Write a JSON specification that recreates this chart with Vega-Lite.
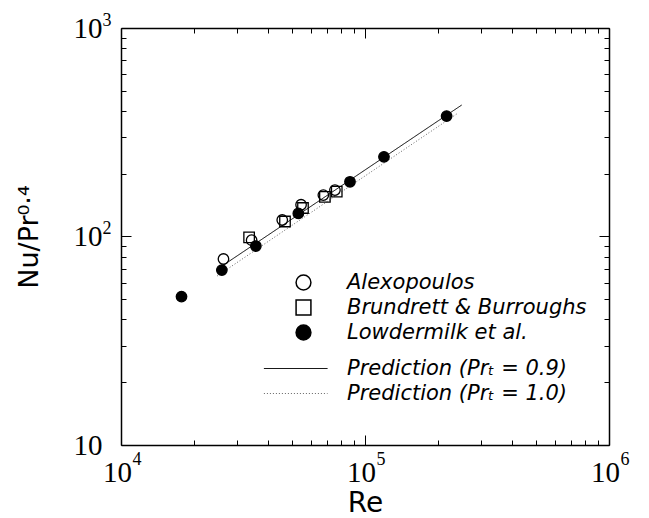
{
  "$schema": "https://vega.github.io/schema/vega-lite/v6.json",
  "width": 488,
  "height": 417,
  "autosize": "none",
  "padding": {"left": 121, "top": 28, "right": 40, "bottom": 73},
  "background": "white",
  "config": {
    "view": {"stroke": null},
    "axis": {"grid": false, "domainColor": "black", "tickColor": "black", "labelColor": "black", "titleColor": "black", "domainWidth": 1.5, "tickWidth": 1}
  },
  "datasets": {
    "points": [
      {"source": "Alexopoulos", "Re": 26300, "NuPr": 78},
      {"source": "Alexopoulos", "Re": 34300, "NuPr": 96},
      {"source": "Alexopoulos", "Re": 45800, "NuPr": 120},
      {"source": "Alexopoulos", "Re": 54700, "NuPr": 142},
      {"source": "Alexopoulos", "Re": 67500, "NuPr": 158},
      {"source": "Alexopoulos", "Re": 75300, "NuPr": 167},
      {"source": "Brundrett & Burroughs", "Re": 33500, "NuPr": 99},
      {"source": "Brundrett & Burroughs", "Re": 47000, "NuPr": 118},
      {"source": "Brundrett & Burroughs", "Re": 55700, "NuPr": 137},
      {"source": "Brundrett & Burroughs", "Re": 68500, "NuPr": 155},
      {"source": "Brundrett & Burroughs", "Re": 76600, "NuPr": 164},
      {"source": "Lowdermilk et al.", "Re": 17700, "NuPr": 51.5},
      {"source": "Lowdermilk et al.", "Re": 25900, "NuPr": 69},
      {"source": "Lowdermilk et al.", "Re": 35700, "NuPr": 90},
      {"source": "Lowdermilk et al.", "Re": 53300, "NuPr": 129},
      {"source": "Lowdermilk et al.", "Re": 86800, "NuPr": 183},
      {"source": "Lowdermilk et al.", "Re": 119600, "NuPr": 241},
      {"source": "Lowdermilk et al.", "Re": 216000, "NuPr": 378}
    ],
    "lines": [
      {"model": "Prediction (Prₜ = 0.9)", "Re": 25500, "NuPr": 71.2},
      {"model": "Prediction (Prₜ = 0.9)", "Re": 249000, "NuPr": 427},
      {"model": "Prediction (Prₜ = 1.0)", "Re": 24800, "NuPr": 64.7},
      {"model": "Prediction (Prₜ = 1.0)", "Re": 237600, "NuPr": 387}
    ]
  },
  "resolve": {"axis": {"x": "independent", "y": "independent"}},
  "layer": [
    {
      "data": {"name": "lines"},
      "transform": [{"filter": {"field": "model", "equal": "Prediction (Prₜ = 0.9)"}}],
      "mark": {"type": "line", "strokeWidth": 1},
      "encoding": {
        "x": {"field": "Re", "type": "quantitative", "scale": {"type": "log", "domain": [10000, 1000000]},
          "axis": {"orient": "bottom", "values": [10000, 100000, 1000000], "tickSize": -10,
            "labelExpr": "'10'", "labelAlign": "center", "labelOffset": -4,
            "labelFont": "Liberation Serif", "labelFontSize": 29, "labelPadding": 23, "labelFlush": false, "labelOverlap": false, "labelBound": false,
            "title": "Re", "titleFont": "DejaVu Sans", "titleFontSize": 28, "titleFontWeight": "normal", "titlePadding": 2}},
        "y": {"field": "NuPr", "type": "quantitative", "scale": {"type": "log", "domain": [10, 1000]},
          "axis": {"orient": "left", "values": [10, 100, 1000], "tickSize": -10,
            "labelExpr": "'10'", "labelBaseline": "middle",
            "labelFont": "Liberation Serif", "labelFontSize": 29, "labelPadding": 29, "labelFlush": false, "labelOverlap": false, "labelBound": false,
            "title": "Nu/Pr⁰·⁴", "titleFont": "DejaVu Sans", "titleFontSize": 27, "titleFontWeight": "normal", "titlePadding": 30}},
        "strokeDash": {"field": "model", "type": "nominal",
          "scale": {"domain": ["Prediction (Prₜ = 0.9)", "Prediction (Prₜ = 1.0)"], "range": [[1, 0], [1, 2]]},
          "legend": {"title": null, "orient": "none", "legendX": 172, "legendY": 330, "symbolType": "M-5.6,0H3.4", "symbolSize": 200, "symbolStrokeWidth": 1, "labelFont": "DejaVu Sans", "labelFontSize": 21, "labelFontStyle": "italic", "labelColor": "black", "labelOffset": 33, "labelLimit": 0, "rowPadding": 3, "padding": 0}},
        "stroke": {"field": "model", "type": "nominal",
          "scale": {"domain": ["Prediction (Prₜ = 0.9)", "Prediction (Prₜ = 1.0)"], "range": ["black", "#666666"]},
          "legend": {"title": null, "orient": "none", "legendX": 172, "legendY": 330, "symbolType": "M-5.6,0H3.4", "symbolSize": 200, "symbolStrokeWidth": 1, "labelFont": "DejaVu Sans", "labelFontSize": 21, "labelFontStyle": "italic", "labelColor": "black", "labelOffset": 33, "labelLimit": 0, "rowPadding": 3, "padding": 0}}
      }
    },
    {
      "data": {"name": "lines"},
      "transform": [{"filter": {"field": "model", "equal": "Prediction (Prₜ = 1.0)"}}],
      "mark": {"type": "line", "strokeWidth": 1},
      "encoding": {
        "x": {"field": "Re", "type": "quantitative", "scale": {"type": "log", "domain": [10000, 1000000]},
          "axis": {"orient": "bottom", "values": [20000, 30000, 40000, 50000, 60000, 70000, 80000, 90000, 200000, 300000, 400000, 500000, 600000, 700000, 800000, 900000], "tickSize": -5, "labels": false, "domain": false, "title": null}},
        "y": {"field": "NuPr", "type": "quantitative", "scale": {"type": "log", "domain": [10, 1000]},
          "axis": {"orient": "left", "values": [20, 30, 40, 50, 60, 70, 80, 90, 200, 300, 400, 500, 600, 700, 800, 900], "tickSize": -5, "labels": false, "domain": false, "title": null}},
        "strokeDash": {"field": "model", "type": "nominal",
          "scale": {"domain": ["Prediction (Prₜ = 0.9)", "Prediction (Prₜ = 1.0)"], "range": [[1, 0], [1, 2]]},
          "legend": {"title": null, "orient": "none", "legendX": 172, "legendY": 330, "symbolType": "M-5.6,0H3.4", "symbolSize": 200, "symbolStrokeWidth": 1, "labelFont": "DejaVu Sans", "labelFontSize": 21, "labelFontStyle": "italic", "labelColor": "black", "labelOffset": 33, "labelLimit": 0, "rowPadding": 3, "padding": 0}},
        "stroke": {"field": "model", "type": "nominal",
          "scale": {"domain": ["Prediction (Prₜ = 0.9)", "Prediction (Prₜ = 1.0)"], "range": ["black", "#666666"]},
          "legend": {"title": null, "orient": "none", "legendX": 172, "legendY": 330, "symbolType": "M-5.6,0H3.4", "symbolSize": 200, "symbolStrokeWidth": 1, "labelFont": "DejaVu Sans", "labelFontSize": 21, "labelFontStyle": "italic", "labelColor": "black", "labelOffset": 33, "labelLimit": 0, "rowPadding": 3, "padding": 0}}
      }
    },
    {
      "data": {"name": "points"},
      "transform": [{"filter": {"field": "source", "equal": "Alexopoulos"}}],
      "mark": {"type": "point", "filled": true, "stroke": "black", "strokeWidth": 1.3, "size": 110, "opacity": 1},
      "encoding": {
        "x": {"field": "Re", "type": "quantitative", "scale": {"type": "log", "domain": [10000, 1000000]},
          "axis": {"orient": "top", "values": [10000, 100000, 1000000], "tickSize": -10, "labels": false, "title": null}},
        "y": {"field": "NuPr", "type": "quantitative", "scale": {"type": "log", "domain": [10, 1000]},
          "axis": {"orient": "right", "values": [10, 100, 1000], "tickSize": -10, "labels": false, "title": null}},
        "shape": {"field": "source", "type": "nominal",
          "scale": {"domain": ["Alexopoulos", "Brundrett & Burroughs", "Lowdermilk et al."], "range": ["circle", "square", "circle"]},
          "legend": {"title": null, "orient": "none", "legendX": 172, "legendY": 244, "symbolSize": 220, "labelFont": "DejaVu Sans", "labelFontSize": 21, "labelFontStyle": "italic", "labelColor": "black", "labelOffset": 33, "labelLimit": 0, "rowPadding": 3, "padding": 0,
            "encode": {"symbols": {"update": {"stroke": {"value": "black"}, "strokeWidth": {"value": 1.5}}}}}},
        "fill": {"field": "source", "type": "nominal",
          "scale": {"domain": ["Alexopoulos", "Brundrett & Burroughs", "Lowdermilk et al."], "range": ["rgba(255,255,255,0)", "rgba(255,255,255,0)", "black"]},
          "legend": {"title": null, "orient": "none", "legendX": 172, "legendY": 244, "symbolSize": 220, "labelFont": "DejaVu Sans", "labelFontSize": 21, "labelFontStyle": "italic", "labelColor": "black", "labelOffset": 33, "labelLimit": 0, "rowPadding": 3, "padding": 0,
            "encode": {"symbols": {"update": {"stroke": {"value": "black"}, "strokeWidth": {"value": 1.5}}}}}}
      }
    },
    {
      "data": {"name": "points"},
      "transform": [{"filter": {"field": "source", "equal": "Brundrett & Burroughs"}}],
      "mark": {"type": "point", "filled": true, "stroke": "black", "strokeWidth": 1.3, "size": 110, "opacity": 1},
      "encoding": {
        "x": {"field": "Re", "type": "quantitative", "scale": {"type": "log", "domain": [10000, 1000000]},
          "axis": {"orient": "top", "values": [20000, 30000, 40000, 50000, 60000, 70000, 80000, 90000, 200000, 300000, 400000, 500000, 600000, 700000, 800000, 900000], "tickSize": -5, "labels": false, "domain": false, "title": null}},
        "y": {"field": "NuPr", "type": "quantitative", "scale": {"type": "log", "domain": [10, 1000]},
          "axis": {"orient": "right", "values": [20, 30, 40, 50, 60, 70, 80, 90, 200, 300, 400, 500, 600, 700, 800, 900], "tickSize": -5, "labels": false, "domain": false, "title": null}},
        "shape": {"field": "source", "type": "nominal",
          "scale": {"domain": ["Alexopoulos", "Brundrett & Burroughs", "Lowdermilk et al."], "range": ["circle", "square", "circle"]},
          "legend": {"title": null, "orient": "none", "legendX": 172, "legendY": 244, "symbolSize": 220, "labelFont": "DejaVu Sans", "labelFontSize": 21, "labelFontStyle": "italic", "labelColor": "black", "labelOffset": 33, "labelLimit": 0, "rowPadding": 3, "padding": 0,
            "encode": {"symbols": {"update": {"stroke": {"value": "black"}, "strokeWidth": {"value": 1.5}}}}}},
        "fill": {"field": "source", "type": "nominal",
          "scale": {"domain": ["Alexopoulos", "Brundrett & Burroughs", "Lowdermilk et al."], "range": ["rgba(255,255,255,0)", "rgba(255,255,255,0)", "black"]},
          "legend": {"title": null, "orient": "none", "legendX": 172, "legendY": 244, "symbolSize": 220, "labelFont": "DejaVu Sans", "labelFontSize": 21, "labelFontStyle": "italic", "labelColor": "black", "labelOffset": 33, "labelLimit": 0, "rowPadding": 3, "padding": 0,
            "encode": {"symbols": {"update": {"stroke": {"value": "black"}, "strokeWidth": {"value": 1.5}}}}}}
      }
    },
    {
      "data": {"name": "points"},
      "transform": [{"filter": {"field": "source", "equal": "Lowdermilk et al."}}],
      "mark": {"type": "point", "filled": true, "stroke": "black", "strokeWidth": 1.3, "size": 110, "opacity": 1},
      "encoding": {
        "x": {"field": "Re", "type": "quantitative", "scale": {"type": "log", "domain": [10000, 1000000]},
          "axis": {"orient": "bottom", "values": [10000, 100000, 1000000], "ticks": false, "tickSize": 0, "domain": false, "title": null,
            "labelExpr": "datum.value < 50000 ? '4' : datum.value < 500000 ? '5' : '6'", "labelAlign": "left", "labelBaseline": "top", "labelOffset": 11,
            "labelFont": "Liberation Serif", "labelFontSize": 18, "labelPadding": 5, "labelFlush": false, "labelOverlap": false, "labelBound": false}},
        "y": {"field": "NuPr", "type": "quantitative", "scale": {"type": "log", "domain": [10, 1000]},
          "axis": {"orient": "left", "values": [10, 100, 1000], "ticks": false, "tickSize": 0, "domain": false, "title": null,
            "labelExpr": "datum.value > 500 ? '3' : datum.value > 50 ? '2' : ''", "labelAlign": "left", "labelBaseline": "middle", "labelOffset": -8,
            "labelFont": "Liberation Serif", "labelFontSize": 18, "labelPadding": 19, "labelFlush": false, "labelOverlap": false, "labelBound": false}},
        "shape": {"field": "source", "type": "nominal",
          "scale": {"domain": ["Alexopoulos", "Brundrett & Burroughs", "Lowdermilk et al."], "range": ["circle", "square", "circle"]},
          "legend": {"title": null, "orient": "none", "legendX": 172, "legendY": 244, "symbolSize": 220, "labelFont": "DejaVu Sans", "labelFontSize": 21, "labelFontStyle": "italic", "labelColor": "black", "labelOffset": 33, "labelLimit": 0, "rowPadding": 3, "padding": 0,
            "encode": {"symbols": {"update": {"stroke": {"value": "black"}, "strokeWidth": {"value": 1.5}}}}}},
        "fill": {"field": "source", "type": "nominal",
          "scale": {"domain": ["Alexopoulos", "Brundrett & Burroughs", "Lowdermilk et al."], "range": ["rgba(255,255,255,0)", "rgba(255,255,255,0)", "black"]},
          "legend": {"title": null, "orient": "none", "legendX": 172, "legendY": 244, "symbolSize": 220, "labelFont": "DejaVu Sans", "labelFontSize": 21, "labelFontStyle": "italic", "labelColor": "black", "labelOffset": 33, "labelLimit": 0, "rowPadding": 3, "padding": 0,
            "encode": {"symbols": {"update": {"stroke": {"value": "black"}, "strokeWidth": {"value": 1.5}}}}}}
      }
    }
  ]
}
